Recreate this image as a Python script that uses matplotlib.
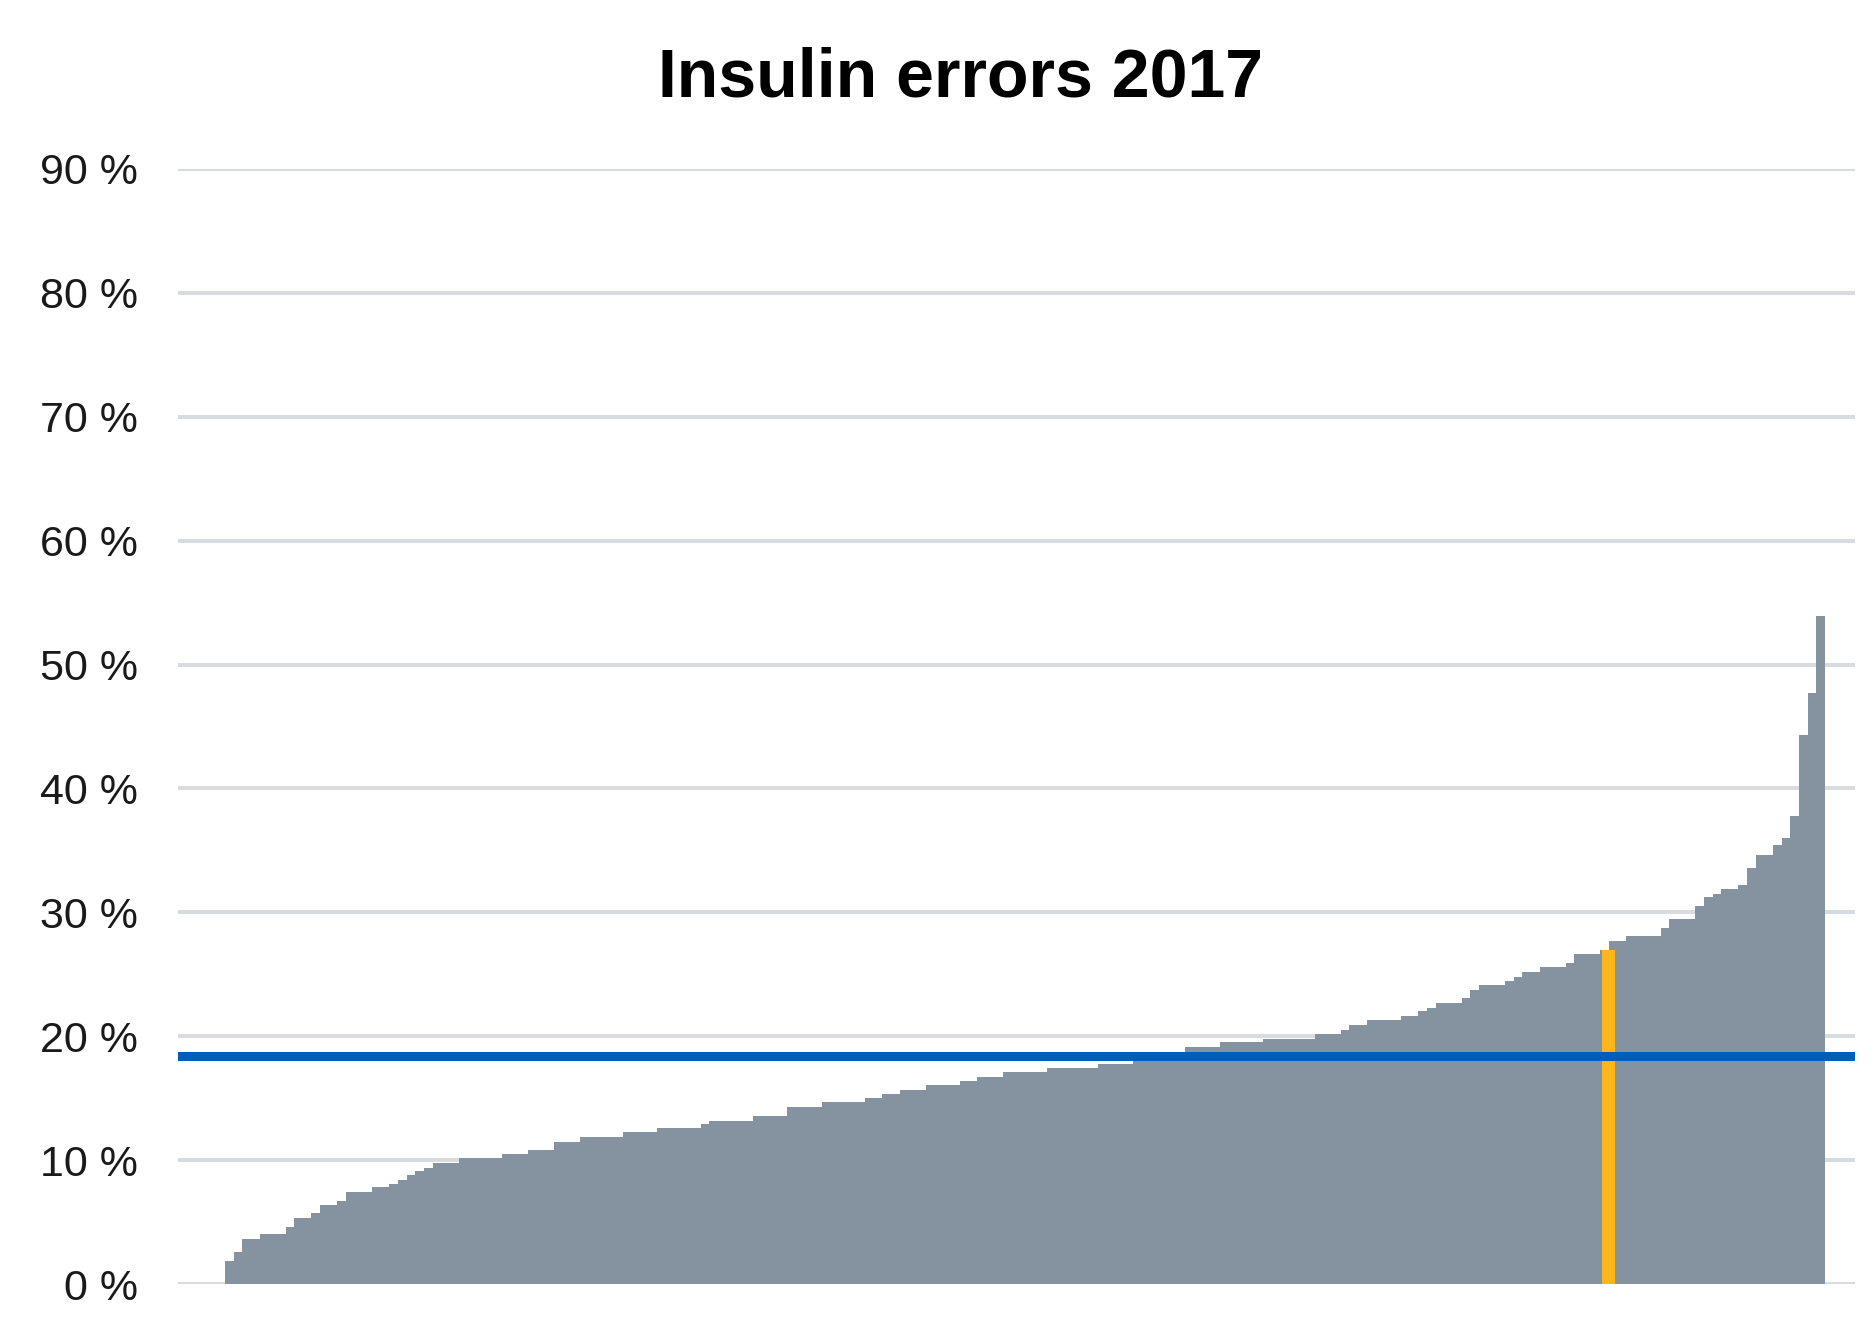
import numpy as np
import matplotlib
matplotlib.use("Agg")
import matplotlib.pyplot as plt

plt.rcParams['font.family'] = ['Liberation Sans', 'DejaVu Sans']

# insulin error rate per organisation, sorted ascending (%)
error_rate = [
    1.9, 2.6, 3.6, 3.6, 4.0, 4.0, 4.0, 4.6, 5.3, 5.3,
    5.7, 6.4, 6.4, 6.7, 7.4, 7.4, 7.4, 7.8, 7.8, 8.1,
    8.4, 8.8, 9.1, 9.4, 9.8, 9.8, 9.8, 10.2, 10.2, 10.2,
    10.2, 10.2, 10.5, 10.5, 10.5, 10.8, 10.8, 10.8, 11.5, 11.5,
    11.5, 11.9, 11.9, 11.9, 11.9, 11.9, 12.3, 12.3, 12.3, 12.3,
    12.6, 12.6, 12.6, 12.6, 12.6, 12.9, 13.2, 13.2, 13.2, 13.2,
    13.2, 13.6, 13.6, 13.6, 13.6, 14.3, 14.3, 14.3, 14.3, 14.7,
    14.7, 14.7, 14.7, 14.7, 15.0, 15.0, 15.3, 15.3, 15.7, 15.7,
    15.7, 16.1, 16.1, 16.1, 16.1, 16.4, 16.4, 16.7, 16.7, 16.7,
    17.1, 17.1, 17.1, 17.1, 17.1, 17.4, 17.4, 17.4, 17.4, 17.4,
    17.4, 17.8, 17.8, 17.8, 17.8, 18.4, 18.4, 18.4, 18.4, 18.4,
    18.4, 19.1, 19.1, 19.1, 19.1, 19.5, 19.5, 19.5, 19.5, 19.5,
    19.8, 19.8, 19.8, 19.8, 19.8, 19.8, 20.2, 20.2, 20.2, 20.5,
    20.9, 20.9, 21.3, 21.3, 21.3, 21.3, 21.6, 21.6, 22.0, 22.3,
    22.7, 22.7, 22.7, 23.1, 23.7, 24.1, 24.1, 24.1, 24.5, 24.8,
    25.2, 25.2, 25.6, 25.6, 25.6, 25.9, 26.6, 26.6, 26.6, 27.0,
    27.7, 27.7, 28.1, 28.1, 28.1, 28.1, 28.7, 29.5, 29.5, 29.5,
    30.5, 31.2, 31.5, 31.9, 31.9, 32.2, 33.6, 34.6, 34.6, 35.4,
    36.0, 37.8, 44.3, 47.7, 53.9,
]
highlight = 159          # our organisation (orange bar)
national_rate = 18.4     # reference line

y_ticks = [0, 10, 20, 30, 40, 50, 60, 70, 80, 90]
y_labels = ["0 %", "10 %", "20 %", "30 %", "40 %", "50 %", "60 %", "70 %", "80 %", "90 %"]

grey = "#8593a1"
orange = "#fdb71a"
blue = "#005eb8"
grid = "#d8dce1"

fig = plt.figure(figsize=(18.76, 13.22), dpi=100)
ax = fig.add_axes([0.0949, 0.0287, 0.8939, 0.8435])

x = np.arange(len(error_rate))
ax.bar(x, error_rate, width=1.0, color=grey, linewidth=0, zorder=2)
# highlighted bar is drawn a bit wider, starting at its own slot
ax.bar(highlight - 0.3, error_rate[highlight], width=1.5, align="edge",
       color=orange, linewidth=0, zorder=3)
ax.axhline(national_rate, xmax=0.998, color=blue, linewidth=6.5, zorder=4)

ax.set_xlim(-5.93, len(error_rate) + 2.97)
ax.set_ylim(0, 90)
ax.set_yticks(y_ticks)
ax.set_yticklabels(y_labels, fontsize=31, color="#1a1a1a")
ax.set_xticks([])
ax.tick_params(axis="y", length=0, pad=29)
ax.yaxis.grid(True, color=grid, linewidth=2.9, zorder=1)
ax.set_axisbelow(True)
for s in ax.spines.values():
    s.set_visible(False)

fig.text(0.512, 0.927, "Insulin errors 2017", ha="center", va="baseline",
         fontsize=49, fontweight="bold", color="black")

fig.savefig("out.png", dpi=100)
